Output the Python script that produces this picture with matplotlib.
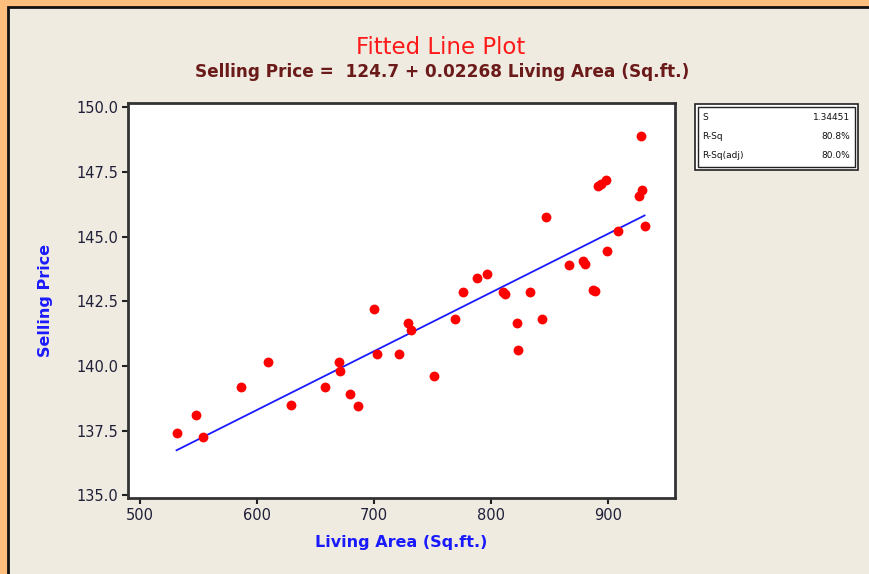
import matplotlib
matplotlib.use("Agg")
import matplotlib.pyplot as plt
from matplotlib.patches import Rectangle
import numpy as np

# Data
living_area = [531, 548, 554, 586, 609, 629, 658, 670, 671, 679, 686,
               700, 702, 721, 729, 731, 751, 769, 776, 788, 796, 810, 812,
               822, 823, 833, 843, 847, 866, 878, 880, 887, 889, 891, 894,
               898, 899, 908, 926, 928, 929, 931]
selling_price = [137.4, 138.1, 137.25, 139.2, 140.15, 138.5, 139.2, 140.15,
                 139.8, 138.9, 138.45, 142.2, 140.45, 140.45, 141.65, 141.4,
                 139.6, 141.8, 142.85, 143.4, 143.55, 142.85, 142.8, 141.65,
                 140.6, 142.85, 141.8, 145.75, 143.9, 144.05, 143.95, 142.95,
                 142.9, 146.95, 147.05, 147.2, 144.45, 145.2, 146.55, 148.9,
                 146.8, 145.4]
intercept = 124.7
slope = 0.02268
stats_labels = ["S", "R-Sq", "R-Sq(adj)"]
stats_values = ["1.34451", "80.8%", "80.0%"]
x_ticks = [500, 600, 700, 800, 900]
y_ticks = [135.0, 137.5, 140.0, 142.5, 145.0, 147.5, 150.0]

W, H = 869, 574
fig = plt.figure(figsize=(W / 100, H / 100), dpi=100)
fig.patch.set_facecolor("#FDBE7E")

# inner panel
panel = Rectangle((8 / W, -0.01), 1.01 - 8 / W, 1.01 - 7 / H, transform=fig.transFigure,
                  facecolor="#F0EBE0", edgecolor="#111111", linewidth=2.0, zorder=-10)
fig.add_artist(panel)

# axes in pixel coordinates
L, R, T, B = 128, 675, 103, 498
ax = fig.add_axes([L / W, 1 - B / H, (R - L) / W, (B - T) / H])
ax.set_facecolor("white")

ax.scatter(living_area, selling_price, s=50, color="#FF0000", zorder=3,
           linewidths=0)
xs = np.array([min(living_area), max(living_area)])
ax.plot(xs, intercept + slope * xs, color="#1A1AFF", linewidth=1.3, zorder=2)

ax.set_xlim(489.5, 957)
ax.set_ylim(134.9, 150.16)
ax.set_xticks(x_ticks)
ax.set_xticklabels([str(v) for v in x_ticks])
ax.set_yticks(y_ticks)
ax.set_yticklabels([f"{v:.1f}" for v in y_ticks])

ax.tick_params(direction="out", length=4, width=1.5, colors="#222222",
               labelsize=10.5, pad=3)
for lab in ax.get_xticklabels() + ax.get_yticklabels():
    lab.set_color("#1F1F3A")
for sp in ax.spines.values():
    sp.set_color("#333333")
    sp.set_linewidth(2.0)

ax.set_xlabel("Living Area (Sq.ft.)", color="#1A1AFF", fontsize=11.5,
              fontweight="bold", labelpad=9)
ax.set_ylabel("Selling Price", color="#1A1AFF", fontsize=11.5,
              fontweight="bold", labelpad=17)

fig.text(441 / W, 1 - 47 / H, "Fitted Line Plot", color="#FF1A1A", fontsize=16.5,
         ha="center", va="center")
fig.text(442 / W, 1 - 72 / H,
         "Selling Price =  124.7 + 0.02268 Living Area (Sq.ft.)",
         color="#6B1A1A", fontsize=12.2, fontweight="bold",
         ha="center", va="center")

# stats box
bx0, by0, bx1, by1 = 695, 104, 858, 170
outer = Rectangle((bx0 / W, 1 - by1 / H), (bx1 - bx0) / W, (by1 - by0) / H,
                  transform=fig.transFigure, facecolor="white",
                  edgecolor="#222222", linewidth=1.2, zorder=5)
fig.add_artist(outer)
inner = Rectangle(((bx0 + 3) / W, 1 - (by1 - 3) / H), (bx1 - bx0 - 6) / W,
                  (by1 - by0 - 6) / H, transform=fig.transFigure,
                  facecolor="white", edgecolor="#222222", linewidth=1.0, zorder=6)
fig.add_artist(inner)
rows_y = [117, 136, 155]
for lab, val, yy in zip(stats_labels, stats_values, rows_y):
    fig.text(702 / W, 1 - yy / H, lab, fontsize=6.5, color="#111111",
             ha="left", va="center", zorder=7)
    fig.text(850 / W, 1 - yy / H, val, fontsize=6.5, color="#111111",
             ha="right", va="center", zorder=7)

fig.savefig("out.png", dpi=100, facecolor=fig.get_facecolor())
